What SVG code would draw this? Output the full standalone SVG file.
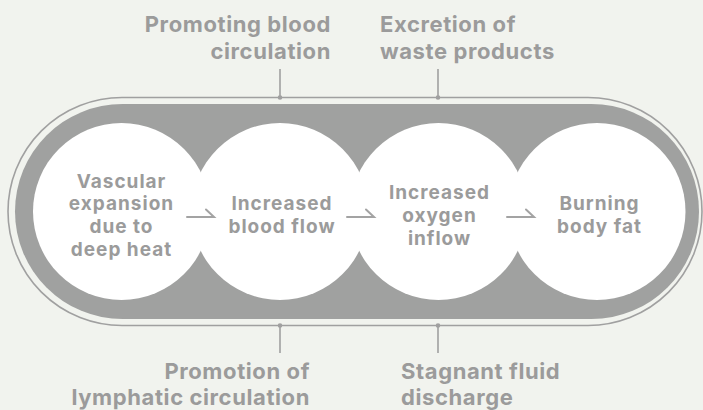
<svg xmlns="http://www.w3.org/2000/svg" width="703" height="410" viewBox="0 0 703 410">
<style>
.t{font-family:Inter,"Liberation Sans",sans-serif;font-weight:700;fill:#9b9b9b}
.lbl{font-size:22px;letter-spacing:0.6px}
.ct{font-size:19px;letter-spacing:1px;text-anchor:middle}
.ln{stroke:#a0a0a0;stroke-width:1.6;fill:none}
.ar{stroke:#a3a3a3;stroke-width:2;fill:none;stroke-linecap:round}
.dot{fill:#a0a0a0}
.c{fill:#ffffff}
</style>
<rect width="703" height="410" fill="#f1f3ee"/>
<g id="frame">
<rect x="8" y="97.5" width="694" height="228" rx="114" class="ln"/>
<rect x="15" y="104" width="684" height="215" rx="107.5" fill="#a0a1a0"/>
</g>
<g id="node1"><circle cx="121.5" cy="211.5" r="88.5" class="c"/>
<text class="t ct"><tspan x="121.5" y="187.5">Vascular</tspan><tspan x="121.5" y="210.3">expansion</tspan><tspan x="121.5" y="233.1">due to</tspan><tspan x="121.5" y="255.9">deep heat</tspan></text></g>
<g id="node2"><circle cx="280" cy="211.5" r="88.5" class="c"/>
<text class="t ct"><tspan x="282" y="210">Increased</tspan><tspan x="282" y="232.8">blood flow</tspan></text></g>
<g id="node3"><circle cx="438.5" cy="211.5" r="88.5" class="c"/>
<text class="t ct"><tspan x="439.5" y="199">Increased</tspan><tspan x="439.5" y="221.8">oxygen</tspan><tspan x="439.5" y="244.6">inflow</tspan></text></g>
<g id="node4"><circle cx="597" cy="211.5" r="88.5" class="c"/>
<text class="t ct"><tspan x="599.5" y="210">Burning</tspan><tspan x="599.5" y="232.8">body fat</tspan></text></g>
<g id="connectors">
<path class="ar" d="M187 217H214L206 209.5"/>
<path class="ar" d="M347 217H374L366 209.5"/>
<path class="ar" d="M507 217H534L526 209.5"/>
<path class="ln" d="M280 69V97.5M438 69V97.5M280 325.5V353M438 325.5V353"/>
<circle class="dot" cx="280" cy="97.5" r="2.3"/><circle class="dot" cx="438" cy="97.5" r="2.3"/>
<circle class="dot" cx="280" cy="325.5" r="2.3"/><circle class="dot" cx="438" cy="325.5" r="2.3"/>
</g>
<g id="labels">
<text class="t lbl" text-anchor="end"><tspan x="331" y="32">Promoting blood</tspan><tspan x="331" y="59">circulation</tspan></text>
<text class="t lbl"><tspan x="380" y="32">Excretion of</tspan><tspan x="380" y="59">waste products</tspan></text>
<text class="t lbl" text-anchor="end"><tspan x="310" y="379">Promotion of</tspan><tspan x="310" y="405">lymphatic circulation</tspan></text>
<text class="t lbl"><tspan x="401" y="379">Stagnant fluid</tspan><tspan x="401" y="405">discharge</tspan></text>
</g>
</svg>
